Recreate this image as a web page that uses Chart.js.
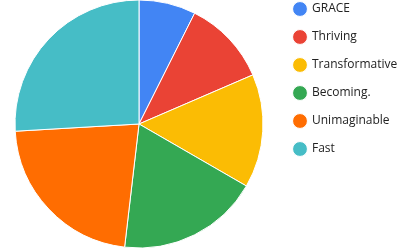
<!DOCTYPE html>
<html>
<head>
<meta charset="utf-8">
<script src="https://cdn.jsdelivr.net/npm/chart.js@4"></script>
<style>
  html, body { margin: 0; padding: 0; background: #fff; }
  #wrap { width: 400px; height: 248px; position: relative; }
</style>
</head>
<body>
<div id="wrap"><canvas id="c"></canvas></div>
<script>
// Slice labels and their values
const categories = ['GRACE', 'Thriving', 'Transformative', 'Becoming.', 'Unimaginable', 'Fast'];
const values = [2, 3, 4, 5, 6, 7];
const sliceColors = ['#4285F4', '#EA4335', '#FBBC04', '#34A853', '#FF6D01', '#46BDC6'];

new Chart(document.getElementById('c'), {
  type: 'pie',
  data: {
    labels: categories,
    datasets: [{
      data: values,
      backgroundColor: sliceColors,
      borderColor: '#ffffff',
      borderWidth: 1
    }]
  },
  options: {
    responsive: true,
    maintainAspectRatio: false,
    animation: false,
    radius: 124,
    layout: { padding: { top: -13, bottom: -13, left: 0, right: 0 } },
    plugins: {
      tooltip: { enabled: false },
      legend: {
        position: 'right',
        align: 'start',
        maxWidth: 122,
        labels: {
          usePointStyle: true,
          pointStyle: 'circle',
          boxWidth: 14,
          boxHeight: 10.5,
          padding: 16,
          color: '#222222',
          font: { family: '"Open Sans", sans-serif', size: 12 }
        }
      }
    }
  }
});
</script>
</body>
</html>
